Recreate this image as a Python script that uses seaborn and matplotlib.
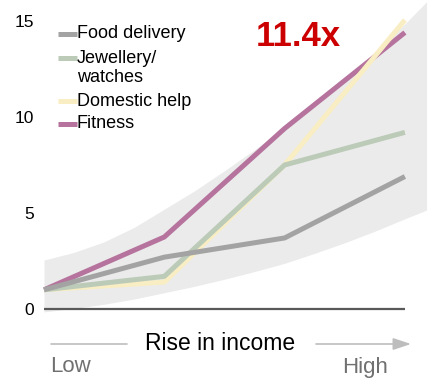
import matplotlib
matplotlib.use("Agg")
import matplotlib.pyplot as plt
from matplotlib.lines import Line2D
import numpy as np
import pandas as pd
import seaborn as sns

# Spending growth index by income level (Low -> High)
income_steps = [0, 1, 2, 3]
series_names = ["Food delivery", "Jewellery/\nwatches", "Domestic help", "Fitness"]
food_delivery = [1.0, 2.7, 3.7, 6.9]
jewellery_watches = [1.0, 1.7, 7.5, 9.2]
domestic_help = [1.0, 1.4, 7.5, 15.05]
fitness = [1.0, 3.75, 9.4, 14.4]
series_values = [food_delivery, jewellery_watches, domestic_help, fitness]
series_colors = ["#a3a3a3", "#bccbb8", "#f8edc3", "#b5739d"]

# Shaded growth corridor behind the lines
band_x = [0.0, 0.25, 0.5, 0.75, 1.0, 1.25, 1.5, 1.75, 2.0, 2.25, 2.5, 2.75, 3.0, 3.18]
band_upper = [2.55, 2.95, 3.5, 4.25, 5.2, 6.15, 7.2, 8.3, 9.45, 10.65, 11.95, 13.35, 14.85, 16.0]
band_lower = [-0.15, 0.03, 0.25, 0.52, 0.85, 1.18, 1.55, 1.95, 2.38, 2.9, 3.45, 4.05, 4.7, 5.15]

y_ticks = [0, 5, 10, 15]
headline = "11.4x"
axis_title = "Rise in income"
low_label, high_label = "Low", "High"

sns.set_theme(style="white")
plt.rcParams["font.family"] = ["Liberation Sans", "DejaVu Sans"]

W, H = 445, 380
fig = plt.figure(figsize=(W / 100, H / 100), dpi=100)

# axes placement in pixels: x=0 at px 44, 120.3 px per step; y=0 at px 309, 19.2 px per unit
x_left, x_right = 0.0, 3.3
y_bottom, y_top = -0.5, 16.1
px_x0, px_step = 44.0, 120.3
px_y0, px_unit = 309.0, 19.2
ax_left = px_x0
ax_w = (x_right - x_left) * px_step
ax_top = px_y0 - y_top * px_unit
ax_h = (y_top - y_bottom) * px_unit
ax = fig.add_axes([ax_left / W, (H - ax_top - ax_h) / H, ax_w / W, ax_h / H])

ax.fill_between(band_x, band_lower, band_upper, color="#ebebeb", lw=0, zorder=0, clip_on=False)

rows = []
for name, vals in zip(series_names, series_values):
    for xs, v in zip(income_steps, vals):
        rows.append({"step": xs, "value": v, "series": name})
df = pd.DataFrame(rows)
palette = dict(zip(series_names, series_colors))

sns.lineplot(data=df, x="step", y="value", hue="series",
             hue_order=series_names[::-1], palette=palette,
             linewidth=3.6, legend=False, ax=ax, sort=False, zorder=3)
for ln in ax.get_lines():
    ln.set_solid_capstyle("butt")
    ln.set_clip_on(False)

ax.plot([income_steps[0], income_steps[-1]], [0, 0], color="#595959", lw=1.6,
        zorder=2, solid_capstyle="butt")

ax.set_xlim(x_left, x_right)
ax.set_ylim(y_bottom, y_top)
ax.set_yticks(y_ticks)
ax.set_yticklabels([str(t) for t in y_ticks], fontsize=12.5, color="black")
ax.tick_params(axis="y", length=0, pad=7)
ax.set_xticks([])
ax.set_xlabel("")
ax.set_ylabel("")
for s in ax.spines.values():
    s.set_visible(False)
ax.patch.set_alpha(0)


def fx(px):
    return px / W


def fy(py):
    return (H - py) / H


# legend drawn as short line handles with labels
legend_rows = [34, 58, 101, 124]
for name, color, py in zip(series_names, series_colors, legend_rows):
    fig.add_artist(Line2D([fx(58), fx(77)], [fy(py), fy(py)], color=color, lw=3.6,
                          solid_capstyle="butt", transform=fig.transFigure))
    if "\n" in name:
        fig.text(fx(77), fy(py - 8), name, fontsize=13, color="black",
                 ha="left", va="top", linespacing=1.15)
    else:
        fig.text(fx(77), fy(py), name, fontsize=13, color="black",
                 ha="left", va="center")

fig.text(fx(298), fy(36), headline, fontsize=25, fontweight="bold",
         color="#cc0000", ha="center", va="center")

# income direction arrow below the chart
fig.text(fx(220), fy(344), axis_title, fontsize=16.5, color="black",
         ha="center", va="center")
fig.add_artist(Line2D([fx(51), fx(127)], [fy(344), fy(344)], color="#bdbdbd", lw=1.2,
                      transform=fig.transFigure))
ax.annotate("", xy=(fx(411), fy(344)), xytext=(fx(316), fy(344)),
            xycoords="figure fraction", textcoords="figure fraction",
            arrowprops=dict(arrowstyle="-|>,head_length=0.9,head_width=0.3",
                            color="#bdbdbd", lw=1.2, shrinkA=0, shrinkB=0))
fig.text(fx(50), fy(367), low_label, fontsize=16, color="#707070",
         ha="left", va="center")
fig.text(fx(388), fy(367), high_label, fontsize=16, color="#707070",
         ha="right", va="center")

fig.savefig("out.png", dpi=100)
